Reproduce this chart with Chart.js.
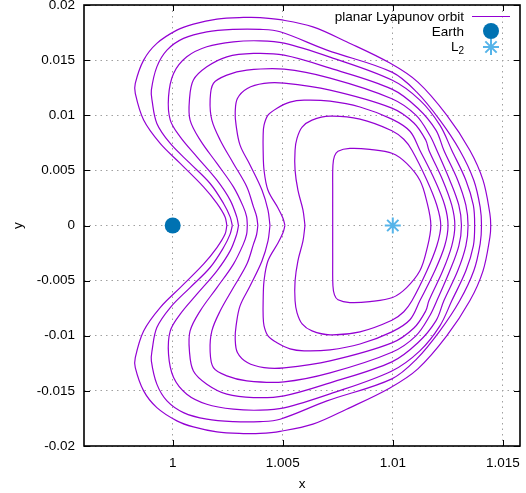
<!DOCTYPE html>
<html>
<head>
<meta charset="utf-8">
<script src="https://cdn.jsdelivr.net/npm/chart.js@4/dist/chart.umd.min.js"></script>
<style>
  html, body { margin: 0; padding: 0; background: #fff; }
  #wrap { width: 526px; height: 493px; position: relative; }
</style>
</head>
<body>
<div id="wrap"><canvas id="orbits"></canvas></div>
<script>
// upper halves of the orbit family (x, y),
// from the left crossing of y=0 round the top to the right crossing.
// the orbits are symmetric about y=0, the lower half is the mirror.
const orbit1 = [[1.00727,0],[1.00727,0.0032],[1.00728,0.00547],[1.00735,0.00629],[1.00751,0.00674],[1.00805,0.00699],[1.00896,0.0069],[1.00999,0.00653],[1.01063,0.00563],[1.01123,0.00411],[1.01153,0.0023],[1.01173,0]];
const orbit2 = [[1.00601,0],[1.00592,0.00139],[1.00569,0.0032],[1.00556,0.00502],[1.00556,0.00683],[1.00565,0.00792],[1.00588,0.00892],[1.00633,0.00956],[1.00715,0.00992],[1.00851,0.00965],[1.00996,0.0086],[1.0105,0.00782],[1.01087,0.00683],[1.01155,0.00411],[1.012,0.00184],[1.01218,0]];
const orbit3 = [[1.0051,0],[1.00501,0.00066],[1.00479,0.00157],[1.00433,0.0032],[1.00415,0.00502],[1.00411,0.00683],[1.00411,0.00819],[1.00415,0.0091],[1.00433,0.01001],[1.00474,0.01064],[1.00533,0.01119],[1.00597,0.01137],[1.00715,0.01128],[1.00851,0.01075],[1.00996,0.00965],[1.01078,0.00855],[1.01123,0.00683],[1.01191,0.00411],[1.01236,0.00184],[1.01251,0]];
const orbit4 = [[1.00442,0],[1.00433,0.00139],[1.00406,0.0032],[1.00352,0.00547],[1.00306,0.00729],[1.00288,0.0091],[1.00284,0.01028],[1.00294,0.01152],[1.00339,0.01243],[1.00415,0.01289],[1.00506,0.01291],[1.00715,0.01228],[1.00996,0.01065],[1.01096,0.00930],[1.0115,0.00774],[1.01164,0.00683],[1.01227,0.00411],[1.01268,0.00184],[1.01282,0]];
const orbit5 = [[1.00387,0],[1.00381,0.00084],[1.00367,0.00169],[1.00337,0.0035],[1.00276,0.00563],[1.00216,0.00774],[1.00178,0.00956],[1.0017,0.01137],[1.00185,0.01289],[1.00246,0.01364],[1.00337,0.01409],[1.00506,0.01418],[1.00715,0.01337],[1.00996,0.01150],[1.01105,0.01001],[1.01168,0.00819],[1.012,0.00683],[1.01259,0.00411],[1.013,0.00184],[1.01312,0]];
const orbit6 = [[1.00339,0],[1.00336,0.00078],[1.00321,0.00169],[1.00276,0.0035],[1.00201,0.00563],[1.00125,0.00774],[1.00079,0.00956],[1.00076,0.01137],[1.00094,0.01319],[1.00155,0.01439],[1.00246,0.0153],[1.00367,0.01561],[1.00506,0.01545],[1.00715,0.01427],[1.00996,0.01237],[1.01114,0.01064],[1.01196,0.00865],[1.01232,0.00683],[1.01295,0.00411],[1.01332,0.00184],[1.01342,0]];
const orbit7 = [[1.00299,0],[1.00291,0.00078],[1.00261,0.0023],[1.00201,0.00411],[1.0011,0.00623],[1.00034,0.00804],[0.99989,0.00956],[0.99981,0.01167],[1.00004,0.01379],[1.00064,0.0153],[1.00155,0.01621],[1.00276,0.01666],[1.00397,0.01675],[1.00506,0.01654],[1.00715,0.01527],[1.00996,0.01319],[1.01123,0.01137],[1.01214,0.0091],[1.01268,0.00683],[1.01332,0.00411],[1.01366,0.00184],[1.01372,0]];
const orbit8 = [[1.00271,0],[1.00261,0.00078],[1.00231,0.002],[1.0017,0.00381],[1.00079,0.00563],[0.99989,0.00744],[0.99928,0.00926],[0.99906,0.01137],[0.99903,0.01228],[0.99928,0.01439],[0.99974,0.01591],[1.00049,0.01697],[1.00155,0.01757],[1.00276,0.01779],[1.00397,0.01779],[1.00488,0.01757],[1.00701,0.01591],[1.00996,0.01391],[1.01109,0.0121],[1.01214,0.00956],[1.01304,0.00683],[1.01368,0.00411],[1.01397,0.00166],[1.01403,0]];
const orbit9 = [[1.00246,0],[1.00238,0.00078],[1.00201,0.002],[1.0014,0.0035],[1.00034,0.00563],[0.99943,0.00744],[0.99868,0.00956],[0.9983,0.01198],[0.9983,0.01289],[0.99868,0.015],[0.99928,0.01652],[1.00019,0.01772],[1.00094,0.01827],[1.00201,0.01872],[1.00321,0.01887],[1.00397,0.01886],[1.00488,0.01867],[1.00637,0.01802],[1.0079,0.01666],[1.00987,0.01473],[1.01114,0.013],[1.01245,0.01001],[1.0135,0.00683],[1.0141,0.00411],[1.01441,0.00109],[1.01445,0]];

const orbitFamily = [orbit1, orbit2, orbit3, orbit4, orbit5, orbit6, orbit7, orbit8, orbit9];

const earthPos = [[1, 0]];
const l2Pos = [[1.01, 0]];

const xTicks = [1, 1.005, 1.01, 1.015];
const xTickLabels = ["1", "1.005", "1.01", "1.015"];
const yTicks = [-0.02, -0.015, -0.01, -0.005, 0, 0.005, 0.01, 0.015, 0.02];
const yTickLabels = ["-0.02", "-0.015", "-0.01", "-0.005", "0", "0.005", "0.01", "0.015", "0.02"];

const legendNames = ["planar Lyapunov orbit", "Earth", "L"];
const l2Sub = "2";

const orbitColor = "#9400d3";
const earthColor = "#0072b2";
const l2Color = "#56b4e9";
const FONT = "'Liberation Sans', Arial, sans-serif";

// full closed orbit: upper half then its mirror back to the start
function closeOrbit(half) {
  const upper = half.map(p => ({ x: p[0], y: p[1] }));
  const lower = half.slice(0, -1).reverse().map(p => ({ x: p[0], y: -p[1] }));
  return upper.concat(lower);
}

const datasets = [];
datasets.push({
  label: "Earth",
  data: earthPos.map(p => ({ x: p[0], y: p[1] })),
  pointStyle: "circle",
  pointRadius: 8,
  backgroundColor: earthColor,
  borderColor: earthColor,
  borderWidth: 0,
  order: 0,
});
datasets.push({
  label: "L2",
  data: l2Pos.map(p => ({ x: p[0], y: p[1] })),
  pointStyle: "star",
  pointRadius: 8,
  borderColor: l2Color,
  backgroundColor: l2Color,
  borderWidth: 2,
  order: 0,
});
orbitFamily.forEach(half => {
  datasets.push({
    label: "planar Lyapunov orbit",
    data: closeOrbit(half),
    showLine: true,
    pointRadius: 0,
    borderColor: orbitColor,
    borderWidth: 1.2,
    tension: 0.35,
    fill: false,
    order: 1,
  });
});

function noPadding(scale) {
  scale.paddingLeft = 0;
  scale.paddingRight = 0;
  scale.paddingTop = 0;
  scale.paddingBottom = 0;
}

// gnuplot style frame: black border and inward ticks on all sides
const framePlugin = {
  id: "frame",
  afterDatasetsDraw(chart) {
    const { ctx, chartArea: a, scales } = chart;
    const tl = 6;
    ctx.save();
    ctx.strokeStyle = "#000";
    ctx.lineWidth = 1;
    ctx.beginPath();
    xTicks.forEach(v => {
      const px = Math.round(scales.x.getPixelForValue(v)) + 0.5;
      ctx.moveTo(px, a.bottom); ctx.lineTo(px, a.bottom - tl);
      ctx.moveTo(px, a.top); ctx.lineTo(px, a.top + tl);
    });
    yTicks.forEach(v => {
      const py = Math.round(scales.y.getPixelForValue(v)) + 0.5;
      ctx.moveTo(a.left, py); ctx.lineTo(a.left + tl, py);
      ctx.moveTo(a.right, py); ctx.lineTo(a.right - tl, py);
    });
    ctx.stroke();
    ctx.lineWidth = 1.6;
    ctx.strokeRect(a.left, a.top, a.right - a.left, a.bottom - a.top);
    ctx.restore();
  },
};

// key in the top right corner, text right-aligned with the sample after it
const keyPlugin = {
  id: "key",
  afterDraw(chart) {
    const { ctx, chartArea: a } = chart;
    const textRight = a.right - 56;
    const sampleX = a.right - 29;
    const rows = [a.top + 12, a.top + 27, a.top + 42];
    ctx.save();
    ctx.font = "13.5px " + FONT;
    ctx.fillStyle = "#000";
    ctx.textAlign = "right";
    ctx.textBaseline = "middle";
    ctx.fillText(legendNames[0], textRight, rows[0]);
    ctx.fillText(legendNames[1], textRight, rows[1]);
    // L with subscript 2
    ctx.font = "10px " + FONT;
    const subW = ctx.measureText(l2Sub).width;
    ctx.fillText(l2Sub, textRight, rows[2] + 4);
    ctx.font = "13.5px " + FONT;
    ctx.fillText(legendNames[2], textRight - subW, rows[2]);

    ctx.strokeStyle = orbitColor;
    ctx.lineWidth = 1.2;
    ctx.beginPath();
    ctx.moveTo(sampleX - 19, rows[0] - 0.5);
    ctx.lineTo(sampleX + 19, rows[0] - 0.5);
    ctx.stroke();

    ctx.fillStyle = earthColor;
    ctx.beginPath();
    ctx.arc(sampleX, rows[1] - 1, 8, 0, Math.PI * 2);
    ctx.fill();

    ctx.strokeStyle = l2Color;
    ctx.lineWidth = 2;
    const r = 8, d = r * Math.SQRT1_2;
    const cy = rows[2];
    ctx.beginPath();
    ctx.moveTo(sampleX - r, cy); ctx.lineTo(sampleX + r, cy);
    ctx.moveTo(sampleX, cy - r); ctx.lineTo(sampleX, cy + r);
    ctx.moveTo(sampleX - d, cy - d); ctx.lineTo(sampleX + d, cy + d);
    ctx.moveTo(sampleX - d, cy + d); ctx.lineTo(sampleX + d, cy - d);
    ctx.stroke();
    ctx.restore();
  },
};

const ctx = document.getElementById("orbits").getContext("2d");
const chart = new Chart(ctx, {
  type: "scatter",
  data: { datasets: datasets },
  plugins: [framePlugin, keyPlugin],
  options: {
    responsive: true,
    maintainAspectRatio: false,
    animation: false,
    layout: { autoPadding: false, padding: { top: 5, right: 6, left: 0, bottom: 0 } },
    plugins: {
      legend: { display: false },
      tooltip: { enabled: false },
    },
    scales: {
      x: {
        type: "linear",
        min: 0.99597,
        max: 1.01578,
        afterBuildTicks: scale => { scale.ticks = xTicks.map(v => ({ value: v })); },
        afterFit: scale => { scale.height = 47; noPadding(scale); },
        ticks: {
          autoSkip: false,
          maxRotation: 0,
          padding: 9,
          color: "#000",
          font: { family: FONT, size: 13.5 },
          callback: (v, i) => xTickLabels[i],
        },
        grid: { color: "#a0a0a0", lineWidth: 1, drawTicks: false },
        border: { display: false, dash: [1.5, 4] },
        title: {
          display: true,
          text: "x",
          color: "#000",
          font: { family: FONT, size: 13.5 },
          padding: { top: 0, bottom: 1 },
        },
      },
      y: {
        type: "linear",
        min: -0.02,
        max: 0.02,
        afterBuildTicks: scale => { scale.ticks = yTicks.map(v => ({ value: v })); },
        afterFit: scale => { scale.width = 84; noPadding(scale); },
        ticks: {
          autoSkip: false,
          padding: 9,
          color: "#000",
          font: { family: FONT, size: 13.5 },
          callback: (v, i) => yTickLabels[i],
        },
        grid: { color: "#a0a0a0", lineWidth: 1, drawTicks: false },
        border: { display: false, dash: [1.5, 4] },
        title: {
          display: true,
          text: "y",
          color: "#000",
          font: { family: FONT, size: 13.5 },
          padding: { top: 10, bottom: 0 },
        },
      },
    },
  },
});
</script>
</body>
</html>
